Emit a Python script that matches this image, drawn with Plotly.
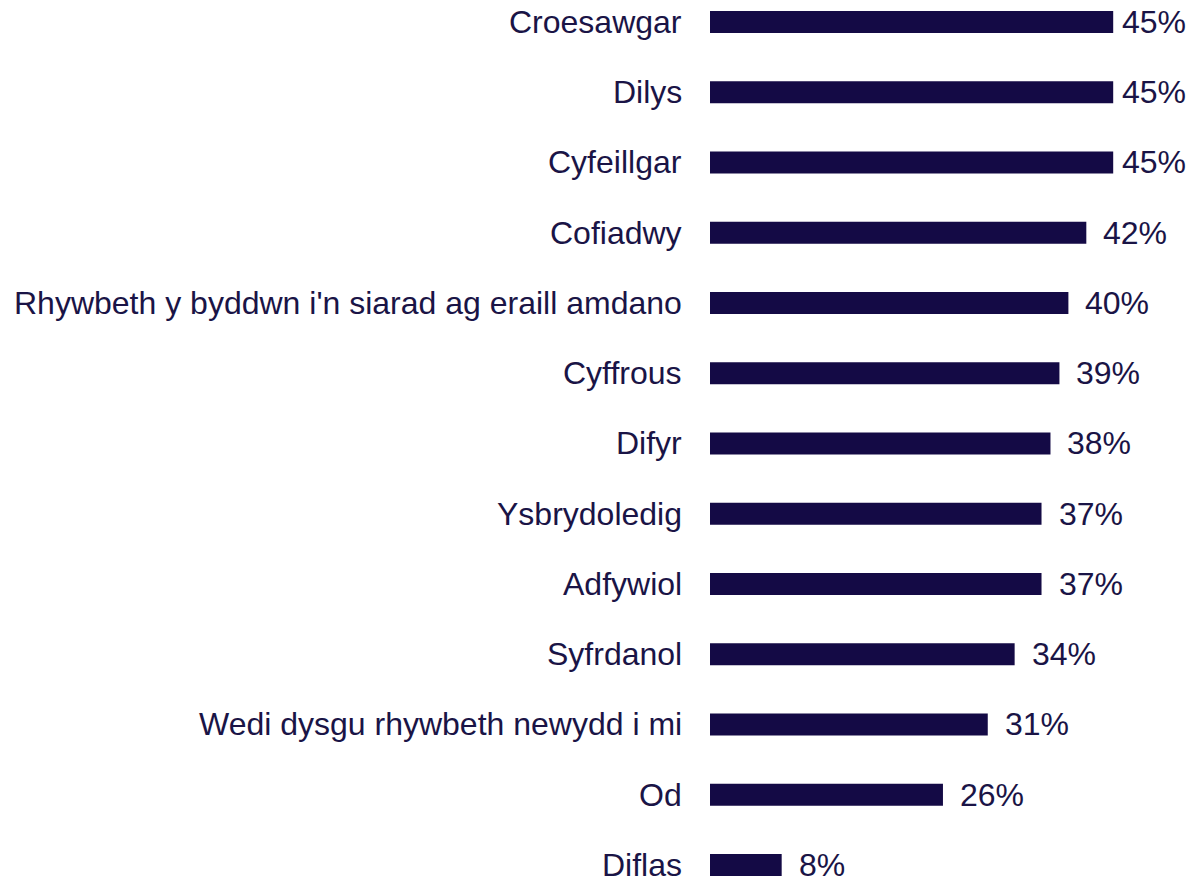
import plotly.graph_objects as go

categories = [
    "Croesawgar",
    "Dilys",
    "Cyfeillgar",
    "Cofiadwy",
    "Rhywbeth y byddwn i'n siarad ag eraill amdano",
    "Cyffrous",
    "Difyr",
    "Ysbrydoledig",
    "Adfywiol",
    "Syfrdanol",
    "Wedi dysgu rhywbeth newydd i mi",
    "Od",
    "Diflas",
]
values = [45, 45, 45, 42, 40, 39, 38, 37, 37, 34, 31, 26, 8]
value_labels = ["45%", "45%", "45%", "42%", "40%", "39%", "38%", "37%", "37%", "34%", "31%", "26%", "8%"]

BAR_COLOR = "#140a45"
TEXT_COLOR = "#1a1446"
FONT = "Liberation Sans, Arial, sans-serif"

fig = go.Figure()
fig.add_trace(go.Bar(
    x=values,
    y=list(range(len(categories))),
    orientation="h",
    marker=dict(color=BAR_COLOR, line=dict(width=0)),
    width=0.313,
    hoverinfo="skip",
))

for i, (cat, v, lab) in enumerate(zip(categories, values, value_labels)):
    fig.add_annotation(
        x=v, y=i, xref="x", yref="y",
        text=lab, showarrow=False,
        xanchor="left", yanchor="middle",
        xshift=7 if v >= 45 else 15,
        font=dict(family=FONT, size=32, color=TEXT_COLOR),
    )
    fig.add_annotation(
        x=0, y=i, xref="paper", yref="y",
        text=cat, showarrow=False,
        xanchor="right", yanchor="middle",
        xshift=-26,
        font=dict(family=FONT, size=32, color=TEXT_COLOR),
    )

fig.update_layout(
    width=1195, height=881,
    margin=dict(l=710, r=0, t=0, b=0),
    paper_bgcolor="white",
    plot_bgcolor="white",
    showlegend=False,
    font=dict(family=FONT, size=32, color=TEXT_COLOR),
    xaxis=dict(range=[0, 485 / 8.96], visible=False, fixedrange=True),
    yaxis=dict(
        range=[12.228, -0.313],
        visible=False,
        fixedrange=True,
    ),
)

fig.write_html(
    "out.html",
    config={"displayModeBar": False, "staticPlot": True},
    post_script="document.body.style.margin='0';document.body.style.overflow='hidden';",
)
